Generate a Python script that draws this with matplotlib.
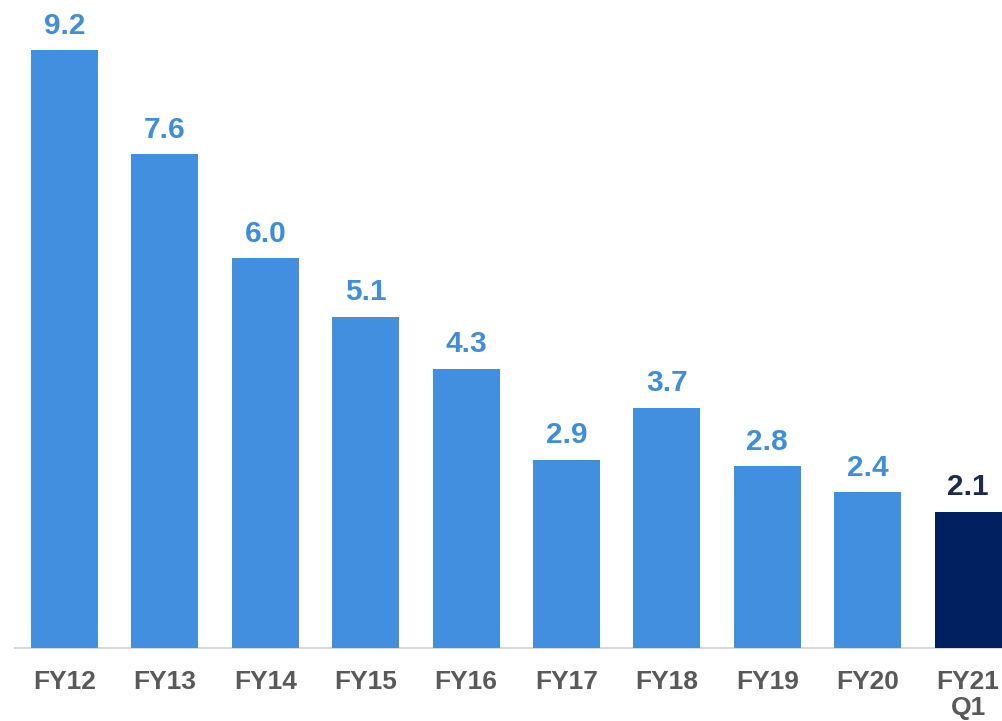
import matplotlib
matplotlib.use("Agg")
import matplotlib.pyplot as plt

categories = ["FY12", "FY13", "FY14", "FY15", "FY16", "FY17", "FY18", "FY19", "FY20", "FY21\nQ1"]
values = [9.2, 7.6, 6.0, 5.1, 4.3, 2.9, 3.7, 2.8, 2.4, 2.1]

blue = "#418FDE"
navy = "#002060"
bar_colors = [blue] * 9 + [navy]
label_colors = ["#3F8EDE"] * 9 + ["#1B2A52"]

plt.rcParams["font.family"] = ["Liberation Sans", "DejaVu Sans"]

W, H = 1002, 721
fig = plt.figure(figsize=(W / 100, H / 100), dpi=100)
ax = fig.add_axes([15 / W, (H - 648) / H, (W - 15) / W, 648 / H])

x = list(range(len(categories)))
ax.bar(x, values, width=0.668, color=bar_colors, zorder=3)

for xi, v, c in zip(x, values, label_colors):
    ax.annotate(f"{v:.1f}", (xi, v), xytext=(0, 7.5), textcoords="offset points",
                ha="center", va="bottom", fontsize=21.5, fontweight="bold", color=c)

ax.set_xlim(-0.493, 9.338)
ax.set_ylim(0, 648 / 65)

ax.set_xticks(x)
ax.set_xticklabels(categories, fontsize=19, fontweight="bold", color="#595959",
                   linespacing=1.15)
ax.tick_params(axis="x", length=0, pad=15.5)
ax.set_yticks([])

for s in ["top", "right", "left"]:
    ax.spines[s].set_visible(False)
ax.spines["bottom"].set_color("#D9D9D9")
ax.spines["bottom"].set_linewidth(1.5)
ax.spines["bottom"].set_zorder(2)

fig.savefig("out.png", dpi=100)
